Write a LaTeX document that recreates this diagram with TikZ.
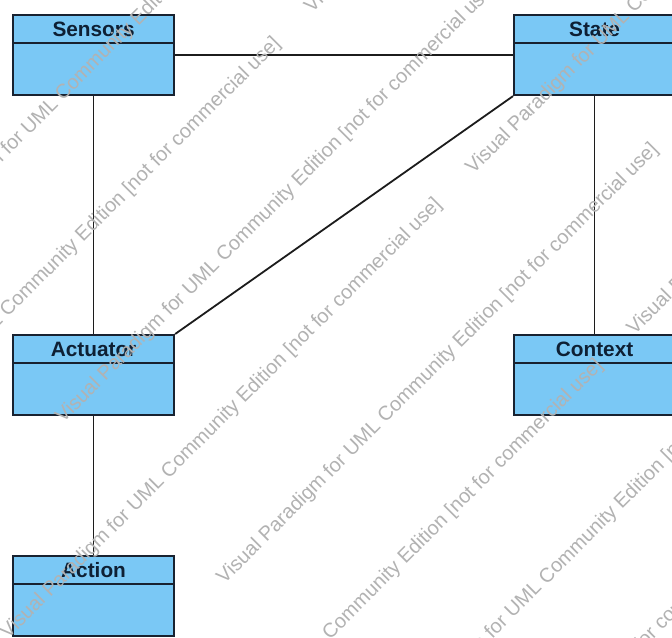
\documentclass[tikz,border=0pt]{standalone}
\usepackage{fontspec}
\setmainfont{Liberation Sans}
\usetikzlibrary{calc}
\definecolor{boxfill}{RGB}{122,200,245}
\definecolor{boxline}{RGB}{24,34,48}
\definecolor{titlecol}{RGB}{14,32,52}
\definecolor{conncol}{RGB}{28,28,28}
\definecolor{wmcol}{RGB}{178,178,178}
\begin{document}
\begin{tikzpicture}[x=0.75pt,y=-0.75pt,
  umlbox/.style={draw=boxline, line width=1.6pt, fill=boxfill,
    minimum width=120.75pt, minimum height=60pt, inner sep=0pt, anchor=north west},
  divider/.style={draw=boxline, line width=1.6pt},
  umltitle/.style={anchor=base, inner sep=0pt, text=titlecol,
    font=\fontsize{15.6}{16}\selectfont\bfseries},
  conn/.style={draw=conncol, line width=1.35pt},
  wm/.style={rotate=45, anchor=west, inner sep=0pt, text=wmcol,
    font=\fontsize{15}{15}\selectfont}]
\useasboundingbox (0,0) rectangle (672,637);
\begin{scope}
\clip (0,0) rectangle (672,637);
\fill[white] (0,0) rectangle (672,637);

% boxes
\node[umlbox] (sensors) at (12,14) {};
\node[umlbox] (state) at (513,14) {};
\node[umlbox] (actuator) at (12,334) {};
\node[umlbox] (context) at (513,334) {};
\node[umlbox] (action) at (12,555) {};

% connectors
\draw[conn] (sensors) -- (state);
\draw[conn] (sensors) -- (actuator);
\draw[conn] (state) -- (context);
\draw[conn] (actuator) -- (action);
\draw[conn] (state.south west) -- (actuator.north east);

% compartment dividers
\foreach \b in {sensors,state,actuator,context,action}{
  \draw[divider] ($(\b.north west)+(0,29)$) -- ($(\b.north east)+(0,29)$);
}

% titles
\node[umltitle] (sensorsT) at ($(sensors.north)+(0,22.5)$) {Sensors};
\node[umltitle] (stateT) at ($(state.north)+(0,22.5)$) {State};
\node[umltitle] (actuatorT) at ($(actuator.north)+(0,22.5)$) {Actuator};
\node[umltitle] (contextT) at ($(context.north)+(0,22.5)$) {Context};
\node[umltitle] (actionT) at ($(action.north)+(0,22.5)$) {Action};

% watermark (t = distance across, s = distance along the 45 degree lines)
\foreach \t/\s [count=\i] in {111/-255, 225/-447, 225/211, 339/-255, 453/-447,
    453/211, 567/-255, 681/-447, 681/211, 795/-255, 909/-447}{
  \node[wm] (wm\i) at ({(\s+\t)*0.7071},{(\t-\s)*0.7071})
    {Visual Paradigm for UML Community Edition [not for commercial use]};
}
\end{scope}
\end{tikzpicture}
\end{document}
